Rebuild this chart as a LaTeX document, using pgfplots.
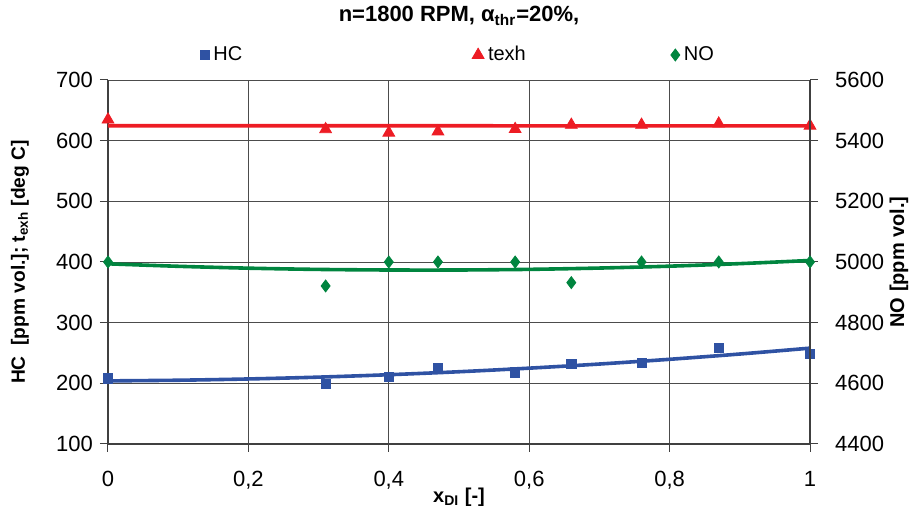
\documentclass[border=0pt]{standalone}
\usepackage{fontspec}
\setmainfont{Liberation Sans}
\usepackage{pgfplots}
\pgfplotsset{compat=1.18}
\definecolor{hcblue}{RGB}{47,82,163}
\definecolor{texred}{RGB}{237,28,36}
\definecolor{nogreen}{RGB}{0,133,63}
\begin{document}
\begin{tikzpicture}
\pgfplotsset{
  common/.style={
    scale only axis, width=351pt, height=182pt,
    xmin=0, xmax=1, clip=false,
    tick align=outside, major tick length=4pt,
    tick style={black!75, line width=0.5pt},
    every tick label/.append style={font=\fontsize{11}{13}\selectfont},
    /pgf/number format/assume math mode=true,
    /pgf/number format/use comma,
    /pgf/number format/1000 sep={},
    axis line style={black!75, line width=0.6pt},
  }
}
\begin{axis}[common,
  axis y line*=left, axis x line*=bottom,
  ymin=100, ymax=700, ytick={100,200,...,700},
  xtick={0,0.2,0.4,0.6,0.8,1},
  xticklabel style={yshift=-6pt},
  grid=major, grid style={black!70, line width=0.45pt},
  xlabel={\textbf{x\textsubscript{DI} [-]}},
  xlabel style={at={(axis description cs:0.5,-0.1456)}, anchor=center, font=\fontsize{10}{12}\selectfont},
  ylabel={\textbf{HC\ \ [ppm vol.]; t\textsubscript{exh} [deg C]}},
  ylabel style={at={(axis description cs:-0.1254,0.5)}, anchor=center, font=\fontsize{9.6}{12}\selectfont},
  title={\textbf{n=1800 RPM, α\textsubscript{thr}=20\%,}},
  title style={at={(axis description cs:0.5,1.1429)}, anchor=center, font=\fontsize{11}{13}\selectfont},
  legend columns=3,
  legend style={at={(0.5,1.0687)}, anchor=center, draw=none, fill=none,
    font=\fontsize{10}{12}\selectfont,
    /tikz/column 2/.style={column sep=113pt},
    /tikz/column 4/.style={column sep=70.5pt}},
  legend image code/.code={\draw[#1] plot coordinates {(0pt,0pt)};},
]
% HC measured
\addplot[only marks, mark=square*, mark size=2.3pt, color=hcblue] coordinates {
(0,208) (0.31,199) (0.40,211) (0.47,225) (0.58,218) (0.66,232) (0.76,234) (0.87,259) (1.0,248)};
\addlegendentry{HC}
% texh measured
\addplot[only marks, mark=triangle*, mark size=3.4pt, color=texred] coordinates {
(0,634.6) (0.31,618.7) (0.40,613) (0.47,615) (0.58,619) (0.66,626) (0.76,626) (0.87,628) (1.0,624.5)};
\addlegendentry{texh}
\addlegendimage{only marks, mark=diamond*, mark size=3pt, color=nogreen}
\addlegendentry{NO}
% trend lines
\addplot[forget plot, smooth, no marks, hcblue, line width=1.8pt] coordinates {
(0,204) (0.1,205.1) (0.2,207.2) (0.3,210.2) (0.4,214.2) (0.5,219.1) (0.6,225.0) (0.7,231.8) (0.8,239.6) (0.9,248.3) (1.0,258.0)};
\addplot[forget plot, no marks, texred, line width=1.8pt] coordinates {
(0,624.6) (0.5,624.5) (1.0,624.4)};
\end{axis}
\begin{axis}[common,
  axis y line*=right, axis x line=none,
  ymin=4400, ymax=5600, ytick={4400,4600,...,5600},
  yticklabel style={xshift=5pt},
  ylabel={\textbf{NO [ppm vol.]}},
  ylabel style={at={(axis description cs:1.1268,0.5)}, anchor=center, font=\fontsize{10}{12}\selectfont},
]
\addplot[smooth, no marks, nogreen, line width=1.8pt] coordinates {
(0,4994) (0.1,4985.8) (0.2,4979.6) (0.3,4975.5) (0.4,4973.6) (0.5,4973.6) (0.6,4975.7) (0.7,4980) (0.8,4986.2) (0.9,4994.6) (1.0,5005)};
\addplot[only marks, mark=diamond*, mark size=3pt, color=nogreen] coordinates {
(0,5000) (0.31,4921) (0.40,5000) (0.47,5000) (0.58,5000) (0.66,4932) (0.76,5000) (0.87,5000) (1.0,5000)};
\end{axis}
\pgfresetboundingbox
\path[use as bounding box] (-54pt,-31pt) rectangle (401pt,222pt);
\end{tikzpicture}
\end{document}
